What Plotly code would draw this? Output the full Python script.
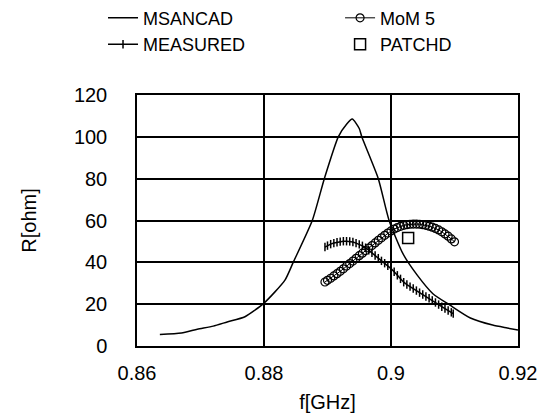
import plotly.graph_objects as go

# MSANCAD
f_msancad = [0.8636, 0.8670, 0.8695, 0.8720, 0.8742, 0.8770, 0.8800, 0.8833, 0.8846,
             0.8876, 0.8895, 0.8917, 0.8930, 0.8939, 0.8950, 0.8954, 0.8980,
             0.8997, 0.9019, 0.9041, 0.9066, 0.9093, 0.9125, 0.9160, 0.9183, 0.9200]
r_msancad = [5.5, 6.2, 8.0, 9.5, 11.5, 14.0, 20.5, 31.5, 40.0,
             60.0, 80.0, 100.0, 106.0, 108.5, 104.0, 100.0, 80.0,
             60.0, 44.0, 34.0, 25.0, 19.5, 13.4, 10.0, 8.6, 7.6]

# MoM 5
f_mom = [0.8896, 0.8900, 0.8905, 0.8910, 0.8915, 0.8920, 0.8925, 0.8930, 0.8935, 0.8940,
         0.8945, 0.8950, 0.8955, 0.8960, 0.8965, 0.8970, 0.8975, 0.8980, 0.8985, 0.8990,
         0.8995, 0.9000, 0.9005, 0.9010, 0.9015, 0.9020, 0.9025, 0.9030, 0.9035, 0.9040,
         0.9045, 0.9050, 0.9055, 0.9060, 0.9065, 0.9070, 0.9075, 0.9080, 0.9085, 0.9090,
         0.9095, 0.9100]
r_mom = [30.6, 31.4, 32.4, 33.5, 34.6, 35.7, 36.9, 38.2, 39.4, 40.6,
         41.9, 43.2, 44.4, 45.6, 46.8, 48.0, 49.3, 50.5, 51.7, 52.9,
         54.0, 55.0, 55.9, 56.6, 57.2, 57.7, 58.0, 58.2, 58.3, 58.3,
         58.2, 58.0, 57.7, 57.3, 56.8, 56.2, 55.5, 54.6, 53.6, 52.5,
         51.2, 49.8]

# MEASURED
f_meas = [0.8896, 0.8900, 0.8905, 0.8910, 0.8915, 0.8920, 0.8925, 0.8930, 0.8935, 0.8940,
          0.8945, 0.8950, 0.8955, 0.8960, 0.8965, 0.8970, 0.8975, 0.8980, 0.8985, 0.8990,
          0.8995, 0.9000, 0.9005, 0.9010, 0.9015, 0.9020, 0.9025, 0.9030, 0.9035, 0.9040,
          0.9045, 0.9050, 0.9055, 0.9060, 0.9065, 0.9070, 0.9075, 0.9080, 0.9085, 0.9090,
          0.9095, 0.9098]
r_meas = [47.3, 48.0, 48.7, 49.2, 49.6, 49.9, 50.1, 50.1, 50.0, 49.7,
          49.2, 48.6, 47.9, 47.0, 45.8, 44.6, 43.3, 42.0, 40.7, 39.6,
          38.4, 37.0, 35.5, 33.8, 32.1, 30.5, 29.4, 28.4, 27.5, 26.5,
          25.5, 24.6, 23.7, 22.8, 21.8, 20.8, 19.8, 18.8, 17.9, 17.0,
          16.1, 15.5]

# PATCHD
f_patch = [0.9027]
r_patch = [51.6]

x_ticks = [0.86, 0.88, 0.9, 0.92]
x_ticklabels = ["0.86", "0.88", "0.9", "0.92"]
y_ticks = [0, 20, 40, 60, 80, 100, 120]

FONT = "Liberation Sans, Arial, sans-serif"

fig = go.Figure()
fig.add_trace(go.Scatter(x=f_msancad, y=r_msancad, mode="lines", name="MSANCAD",
                         legend="legend",
                         line=dict(color="black", width=1.5, shape="spline", smoothing=0.6)))
fig.add_trace(go.Scatter(x=f_mom, y=r_mom, mode="lines+markers", name="MoM 5",
                         legend="legend2",
                         line=dict(color="black", width=1),
                         marker=dict(symbol="circle-open", size=8, color="black",
                                     line=dict(width=1.2, color="black"))))
fig.add_trace(go.Scatter(x=f_meas, y=r_meas, mode="lines+markers", name="MEASURED",
                         legend="legend",
                         line=dict(color="black", width=1.5),
                         marker=dict(symbol="line-ns-open", size=6, color="black",
                                     line=dict(width=1.5, color="black"))))
fig.add_trace(go.Scatter(x=f_patch, y=r_patch, mode="markers", name="PATCHD",
                         legend="legend2",
                         marker=dict(symbol="square-open", size=11, color="black",
                                     line=dict(width=1.5, color="black"))))

legend_common = dict(xanchor="left", yanchor="top", xref="paper", yref="paper",
                     font=dict(family=FONT, size=18, color="black"),
                     bgcolor="rgba(0,0,0,0)", tracegroupgap=0, orientation="v")

fig.update_layout(
    width=549, height=416,
    margin=dict(l=137, r=31, t=95, b=70, autoexpand=False),
    paper_bgcolor="white", plot_bgcolor="white",
    font=dict(family=FONT, size=20, color="black"),
    showlegend=True,
    legend=dict(x=-0.0892, y=1.38, **legend_common),
    legend2=dict(x=0.533, y=1.38, **legend_common),
    xaxis=dict(range=[0.86, 0.92], tickvals=x_ticks, ticktext=x_ticklabels,
               showgrid=True, gridcolor="black", gridwidth=1.5,
               showline=True, linecolor="black", linewidth=1.5, mirror=True,
               ticks="", zeroline=False, ticklabelstandoff=8, automargin=False,
               title=dict(text="f[GHz]", standoff=12, font=dict(family=FONT, size=20))),
    yaxis=dict(range=[0, 120], tickvals=y_ticks,
               showgrid=True, gridcolor="black", gridwidth=1.5,
               showline=True, linecolor="black", linewidth=1.5, mirror=True,
               ticks="", zeroline=False, ticklabelstandoff=24, automargin=False,
               title=dict(text="R[ohm]", standoff=32, font=dict(family=FONT, size=20))),
)

fig.write_html("out.html")
